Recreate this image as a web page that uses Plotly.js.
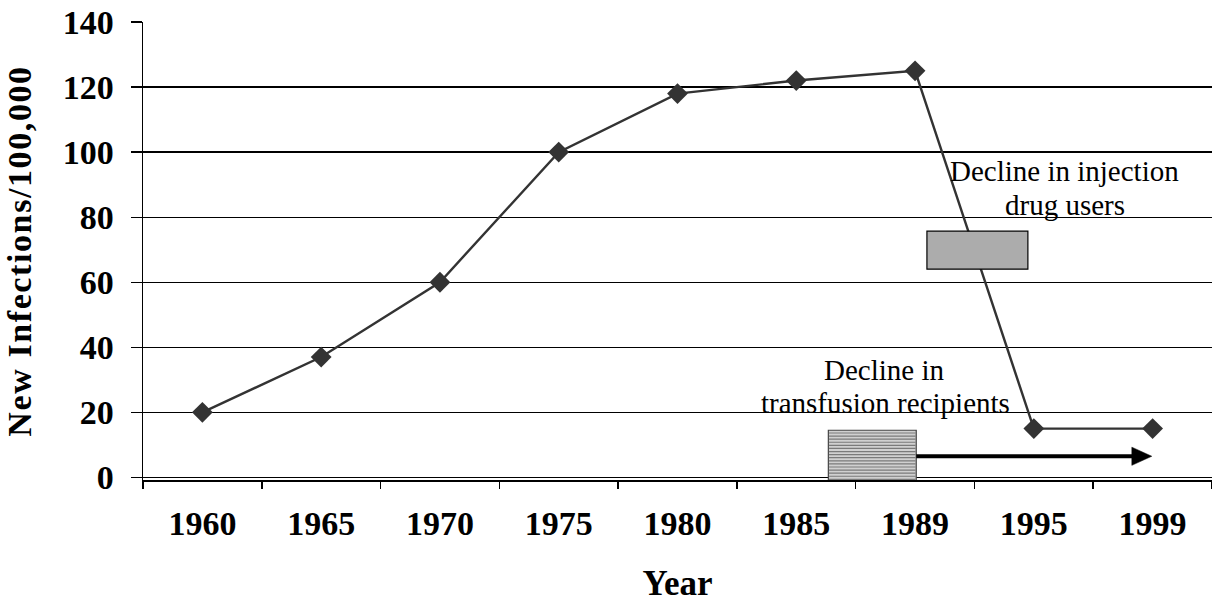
<!DOCTYPE html>
<html>
<head>
<meta charset="utf-8">
<script src="https://cdn.plot.ly/plotly-3.0.1.min.js"></script>
<style>
  html, body { margin: 0; padding: 0; background: #fff; }
  #chart { width: 1212px; height: 603px; }
  .ytitle { letter-spacing: 1.6px; }
</style>
</head>
<body>
<div id="chart"></div>
<script>
// ---- data ----
const years = ["1960", "1965", "1970", "1975", "1980", "1985", "1989", "1995", "1999"];
const newInfections = [20, 37, 60, 100, 118, 122, 125, 15, 15];
const yTicks = [0, 20, 40, 60, 80, 100, 120, 140];

const serif = "'Liberation Serif', 'Times New Roman', serif";
const dark = "#333333";

const trace = {
  x: years,
  y: newInfections,
  type: "scatter",
  mode: "lines+markers",
  line: { color: dark, width: 2.4 },
  marker: { symbol: "diamond", size: 16, color: dark },
  hoverinfo: "x+y",
  showlegend: false
};

// annotation decorations (boxes / arrow) in category-index coordinates
const shapes = [];
// dotted box (injection drug users)
shapes.push({ type: "rect", xref: "x", yref: "y", x0: 6.1, x1: 6.95, y0: 64, y1: 75.7,
  fillcolor: "#acacac", line: { color: "#000", width: 1.2 }, layer: "above" });
// striped box (transfusion recipients)
shapes.push({ type: "rect", xref: "x", yref: "y", x0: 5.27, x1: 6.01, y0: -1.2, y1: 14.5,
  fillcolor: "#d0d0d0", line: { color: "#444", width: 1.2 }, layer: "above" });
for (let k = 0; k < 16; k++) {
  const yy = -0.6 + k * 0.95;
  shapes.push({ type: "line", xref: "x", yref: "y", x0: 5.275, x1: 6.005, y0: yy, y1: yy,
    line: { color: "#7a7a7a", width: 1.2 }, layer: "above" });
}
// arrow shaft + head
shapes.push({ type: "line", xref: "x", yref: "y", x0: 6.01, x1: 7.84, y0: 6.5, y1: 6.5,
  line: { color: "#000", width: 4 }, layer: "above" });
shapes.push({ type: "path", xref: "x", yref: "y",
  path: "M 7.825 3.7 L 7.993 6.5 L 7.825 9.3 Z",
  fillcolor: "#000", line: { color: "#000", width: 0.5 }, layer: "above" });

const annFont = { family: serif, size: 29, color: "#000" };
const annotations = [
  { text: "Decline in injection", x: 7.26, y: 94.2, xref: "x", yref: "y", showarrow: false, font: annFont },
  { text: "drug users", x: 7.26, y: 83.8, xref: "x", yref: "y", showarrow: false, font: annFont },
  { text: "Decline in", x: 5.74, y: 33.0, xref: "x", yref: "y", showarrow: false, font: annFont },
  { text: "transfusion recipients", x: 5.75, y: 22.8, xref: "x", yref: "y", showarrow: false, font: annFont }
];

const layout = {
  width: 1212,
  height: 603,
  margin: { l: 143, r: 0, t: 22, b: 123 },
  paper_bgcolor: "#ffffff",
  plot_bgcolor: "#ffffff",
  font: { family: serif, color: "#000" },
  showlegend: false,
  xaxis: {
    type: "category",
    categoryorder: "array",
    categoryarray: years,
    range: [-0.5, 8.5],
    tickson: "boundaries",
    ticks: "outside",
    ticklen: 7,
    tickwidth: 1.5,
    tickcolor: "#000",
    ticklabelstandoff: 13,
    showgrid: false,
    showline: true,
    linecolor: "#000",
    linewidth: 1.5,
    zeroline: false,
    tickfont: { family: serif, size: 34, color: "#000", weight: "bold" },
    title: { text: "Year", font: { family: serif, size: 35, color: "#000", weight: "bold" }, standoff: 46 },
    fixedrange: true
  },
  yaxis: {
    range: [-0.8, 140],
    tickvals: yTicks,
    ticktext: yTicks.map(String),
    ticks: "outside",
    ticklen: 11,
    tickwidth: 1.3,
    tickcolor: "#000",
    ticklabelstandoff: 10,
    showgrid: true,
    gridcolor: "#000",
    gridwidth: 1.3,
    showline: true,
    linecolor: "#000",
    linewidth: 1.5,
    zeroline: false,
    tickfont: { family: serif, size: 34, color: "#000", weight: "bold" },
    title: { text: "New Infections/100,000", font: { family: serif, size: 34, color: "#000", weight: "bold" }, standoff: 21 },
    fixedrange: true
  },
  shapes: shapes,
  annotations: annotations
};

Plotly.newPlot("chart", [trace], layout, { displayModeBar: false, staticPlot: true });
</script>
</body>
</html>
